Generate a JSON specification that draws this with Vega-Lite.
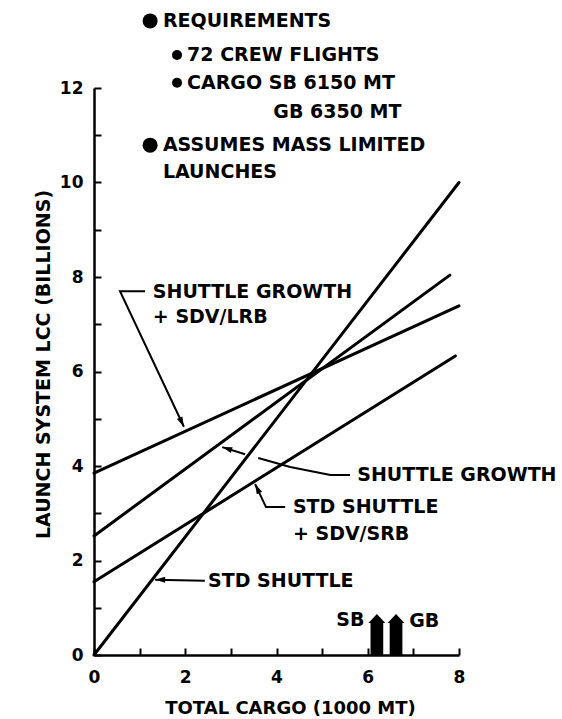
{
  "$schema": "https://vega.github.io/schema/vega-lite/v6.json",
  "width": 365,
  "height": 567,
  "autosize": {"type": "none"},
  "padding": {"left": 94, "top": 88, "right": 103, "bottom": 64},
  "background": "white",
  "config": {
    "view": {"stroke": null},
    "font": "DejaVu Sans",
    "axis": {
      "domainColor": "black", "domainWidth": 2.5,
      "tickColor": "black", "tickWidth": 2, "tickSize": -7,
      "grid": false,
      "labelColor": "black", "labelFont": "DejaVu Sans", "labelFontWeight": "bold", "labelFontSize": 17,
      "titleFont": "DejaVu Sans", "titleFontWeight": "bold", "titleFontSize": 18, "titleColor": "black",
      "labelOverlap": false, "labelFlush": false
    }
  },
  "datasets": {
    "lines": [
      {"series": "STD SHUTTLE", "x": 0, "y": 0},
      {"series": "STD SHUTTLE", "x": 8, "y": 10},
      {"series": "SHUTTLE GROWTH + SDV/LRB", "x": 0, "y": 3.85},
      {"series": "SHUTTLE GROWTH + SDV/LRB", "x": 8, "y": 7.39},
      {"series": "SHUTTLE GROWTH", "x": 0, "y": 2.52},
      {"series": "SHUTTLE GROWTH", "x": 7.8, "y": 8.04},
      {"series": "STD SHUTTLE + SDV/SRB", "x": 0, "y": 1.55},
      {"series": "STD SHUTTLE + SDV/SRB", "x": 7.92, "y": 6.33}
    ],
    "leaders": [
      {"seg": "lrb", "i": 1, "x": 1.12, "y": 7.7},
      {"seg": "lrb", "i": 2, "x": 0.57, "y": 7.7},
      {"seg": "lrb", "i": 3, "x": 1.97, "y": 4.83},
      {"seg": "growth1", "i": 1, "x": 2.81, "y": 4.4},
      {"seg": "growth1", "i": 2, "x": 3.31, "y": 4.25},
      {"seg": "growth2", "i": 1, "x": 3.6, "y": 4.17},
      {"seg": "growth2", "i": 2, "x": 4.3, "y": 3.98},
      {"seg": "growth2", "i": 3, "x": 5.18, "y": 3.81},
      {"seg": "growth2", "i": 4, "x": 5.61, "y": 3.81},
      {"seg": "srb", "i": 1, "x": 4.19, "y": 3.13},
      {"seg": "srb", "i": 2, "x": 3.77, "y": 3.13},
      {"seg": "srb", "i": 3, "x": 3.53, "y": 3.62},
      {"seg": "std", "i": 1, "x": 2.43, "y": 1.57},
      {"seg": "std", "i": 2, "x": 1.34, "y": 1.59}
    ],
    "tips": [
      {"leader": "lrb", "x": 1.97, "y": 4.83},
      {"leader": "growth", "x": 2.81, "y": 4.4},
      {"leader": "srb", "x": 3.53, "y": 3.62},
      {"leader": "std", "x": 1.34, "y": 1.59}
    ],
    "notes": [
      {"text": "REQUIREMENTS", "x": 1.51, "y": 13.42},
      {"text": "72 CREW FLIGHTS", "x": 2.04, "y": 12.7},
      {"text": "CARGO SB 6150 MT", "x": 2.04, "y": 12.11},
      {"text": "GB 6350 MT", "x": 3.93, "y": 11.49},
      {"text": "ASSUMES MASS LIMITED", "x": 1.51, "y": 10.79},
      {"text": "LAUNCHES", "x": 1.51, "y": 10.22},
      {"text": "SHUTTLE GROWTH", "x": 1.29, "y": 7.68},
      {"text": "+ SDV/LRB", "x": 1.29, "y": 7.15},
      {"text": "SHUTTLE GROWTH", "x": 5.77, "y": 3.81},
      {"text": "STD SHUTTLE", "x": 4.36, "y": 3.13},
      {"text": "+ SDV/SRB", "x": 4.36, "y": 2.56},
      {"text": "STD SHUTTLE", "x": 2.5, "y": 1.57},
      {"text": "SB", "x": 5.31, "y": 0.74},
      {"text": "GB", "x": 6.91, "y": 0.72}
    ],
    "bullets": [
      {"level": 1, "x": 1.23, "y": 13.42},
      {"level": 2, "x": 1.82, "y": 12.7},
      {"level": 2, "x": 1.82, "y": 12.11},
      {"level": 1, "x": 1.23, "y": 10.79}
    ],
    "cargo": [
      {"req": "SB", "x": 6.2, "y": 0},
      {"req": "GB", "x": 6.62, "y": 0}
    ]
  },
  "encoding": {
    "x": {
      "field": "x", "type": "quantitative",
      "scale": {"domain": [0, 8], "nice": false, "zero": false},
      "axis": {
        "values": [0, 1, 2, 3, 4, 5, 6, 7, 8],
        "labelExpr": "datum.value % 2 == 0 ? datum.label : ''",
        "title": "TOTAL CARGO (1000 MT)",
        "labelPadding": 21,
        "titlePadding": 14,
        "titleX": 196
      }
    },
    "y": {
      "field": "y", "type": "quantitative",
      "scale": {"domain": [0, 12], "nice": false, "zero": false},
      "axis": {
        "values": [0, 1, 2, 3, 4, 5, 6, 7, 8, 9, 10, 11, 12],
        "labelExpr": "datum.value % 2 == 0 ? datum.label : ''",
        "title": "LAUNCH SYSTEM LCC (BILLIONS)",
        "titleFontSize": 19,
        "titleY": 276,
        "labelPadding": 18,
        "titlePadding": 6
      }
    }
  },
  "layer": [
    {
      "data": {"name": "lines"},
      "mark": {"type": "line", "color": "black", "strokeWidth": 3, "strokeCap": "round"},
      "encoding": {"detail": {"field": "series"}}
    },
    {
      "data": {"name": "leaders"},
      "mark": {"type": "line", "color": "black", "strokeWidth": 2},
      "encoding": {"detail": {"field": "seg"}, "order": {"field": "i", "type": "quantitative"}}
    },
    {
      "data": {"name": "tips"},
      "transform": [{"filter": "datum.leader == 'lrb'"}],
      "mark": {"type": "point", "shape": "M 0 0 L 0.6 2 L -0.6 2 Z", "size": 100, "angle": 155, "filled": true, "color": "black", "opacity": 1}
    },
    {
      "data": {"name": "tips"},
      "transform": [{"filter": "datum.leader == 'growth'"}],
      "mark": {"type": "point", "shape": "M 0 0 L 0.6 2 L -0.6 2 Z", "size": 100, "angle": 287, "filled": true, "color": "black", "opacity": 1}
    },
    {
      "data": {"name": "tips"},
      "transform": [{"filter": "datum.leader == 'srb'"}],
      "mark": {"type": "point", "shape": "M 0 0 L 0.6 2 L -0.6 2 Z", "size": 100, "angle": 334, "filled": true, "color": "black", "opacity": 1}
    },
    {
      "data": {"name": "tips"},
      "transform": [{"filter": "datum.leader == 'std'"}],
      "mark": {"type": "point", "shape": "M 0 0 L 0.6 2 L -0.6 2 Z", "size": 100, "angle": 270, "filled": true, "color": "black", "opacity": 1}
    },
    {
      "data": {"name": "notes"},
      "mark": {"type": "text", "align": "left", "baseline": "middle", "font": "DejaVu Sans", "fontWeight": "bold", "fontSize": 19, "color": "black"},
      "encoding": {"text": {"field": "text"}}
    },
    {
      "data": {"name": "bullets"},
      "mark": {"type": "point", "shape": "circle", "filled": true, "color": "black", "opacity": 1},
      "encoding": {"size": {"field": "level", "type": "ordinal", "scale": {"domain": [1, 2], "range": [225, 100]}, "legend": null}}
    },
    {
      "data": {"name": "cargo"},
      "mark": {"type": "point", "shape": "M -0.31 0 L -0.31 -1.56 L -0.41 -1.56 L 0 -2 L 0.41 -1.56 L 0.31 -1.56 L 0.31 0 Z", "size": 1681, "filled": true, "color": "black", "opacity": 1}
    }
  ]
}
